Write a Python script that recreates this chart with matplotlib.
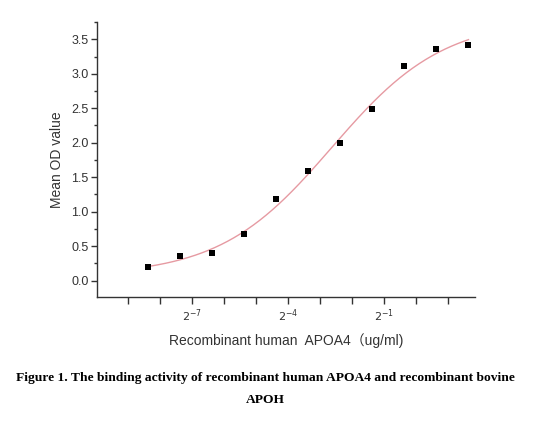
import numpy as np
import matplotlib
matplotlib.use("Agg")
import matplotlib.pyplot as plt
from matplotlib.ticker import FixedLocator, MultipleLocator

# Data: serial two-fold dilution of recombinant human APOA4 (ug/ml)
conc = [3.125 / 2**k for k in range(10, -1, -1)]
od = [0.194, 0.362, 0.397, 0.677, 1.18, 1.585, 1.99, 2.484, 3.11, 3.36, 3.42]

major_exps = [-7, -4, -1]
minor_exps = [-9, -8, -6, -5, -3, -2, 0, 1]

caption1 = "Figure 1. The binding activity of recombinant human APOA4 and recombinant bovine"
caption2 = "APOH"

# 4-parameter logistic fit (in log2 concentration) done with numpy
lx = np.log2(np.array(conc))
y = np.array(od)
best = None
for x0 in np.linspace(-6, 0, 241):
    for s in np.linspace(0.5, 4, 141):
        g = 1.0 / (1.0 + np.exp((lx - x0) / s))
        A = np.vstack([g, 1 - g]).T
        coef, *_ = np.linalg.lstsq(A, y, rcond=None)
        r = np.sum((A @ coef - y) ** 2)
        if best is None or r < best[0]:
            best = (r, x0, s, coef)
_, x0, s, (A1, A2) = best
xf = np.linspace(lx.min(), lx.max(), 300)
gf = 1 / (1 + np.exp((xf - x0) / s))
yf = A1 * gf + A2 * (1 - gf)

fig = plt.figure(figsize=(5.44, 4.21), dpi=100)
ax = fig.add_axes([0.1778, 0.2952, 0.6955, 0.6525])
ax.set_xscale("log", base=2)
ax.plot(2 ** xf, yf, color="#e69aa2", lw=1.0, zorder=2)
ax.scatter(conc, od, marker="s", s=24, color="black", linewidths=0, zorder=3)

ax.set_xlim(2 ** -9.97, 2 ** 1.85)
ax.set_ylim(-0.232, 3.75)
ax.xaxis.set_major_locator(FixedLocator([2.0 ** e for e in major_exps]))
ax.xaxis.set_minor_locator(FixedLocator([2.0 ** e for e in minor_exps]))
ax.set_xticklabels([r"$2^{%d}$" % e for e in major_exps])
ax.xaxis.set_minor_formatter(matplotlib.ticker.NullFormatter())
ax.yaxis.set_major_locator(MultipleLocator(0.5))
ax.yaxis.set_minor_locator(MultipleLocator(0.25))
ax.yaxis.set_major_formatter(matplotlib.ticker.FormatStrFormatter("%.1f"))

for sp in ["top", "right"]:
    ax.spines[sp].set_visible(False)
for sp in ["left", "bottom"]:
    ax.spines[sp].set_color("#333333")
    ax.spines[sp].set_linewidth(1.0)

ax.tick_params(axis="both", which="both", direction="out", color="#333333", width=1.0)
ax.tick_params(axis="x", which="both", length=5)
ax.tick_params(axis="y", which="major", length=4)
ax.tick_params(axis="y", which="minor", length=2.5)
ax.tick_params(axis="y", labelsize=9, colors="#333333", pad=2)
ax.tick_params(axis="x", labelsize=8, colors="#333333", pad=3)
for lab in ax.get_yticklabels() + ax.get_xticklabels():
    lab.set_fontfamily(["Liberation Sans", "DejaVu Sans"])

ax.set_ylabel("Mean OD value", fontsize=10, family=["Liberation Sans", "DejaVu Sans"],
              color="#333333", labelpad=5)
ax.set_xlabel("Recombinant human  APOA4\uff08ug/ml)", fontsize=10,
              family=["Liberation Sans", "Noto Sans CJK SC"], color="#333333", labelpad=6)

fig.text(265 / 544, 1 - 378 / 421, caption1, ha="center", va="center", fontsize=9.7,
         fontweight="bold", family="Liberation Serif")
fig.text(265 / 544, 1 - 400 / 421, caption2, ha="center", va="center", fontsize=9.7,
         fontweight="bold", family="Liberation Serif")

fig.savefig("out.png", dpi=100)
